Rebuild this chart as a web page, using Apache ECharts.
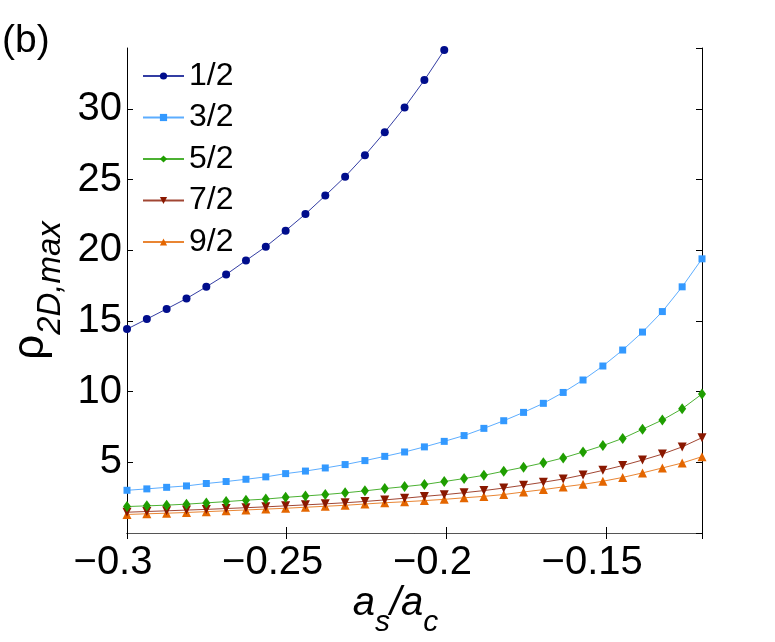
<!DOCTYPE html>
<html>
<head>
<meta charset="utf-8">
<script src="https://cdn.jsdelivr.net/npm/echarts@6/dist/echarts.min.js"></script>
<style>html,body{margin:0;padding:0;background:#fff;}#c{width:775px;height:642px;}</style>
</head>
<body>
<div id="c"></div>
<script>
// x values (a_s / a_c), 30 points from -0.3 to -0.12
var xVals = [-0.3, -0.29379, -0.28759, -0.28138, -0.27517, -0.26897, -0.26276, -0.25655, -0.25034, -0.24414,
  -0.23793, -0.23172, -0.22552, -0.21931, -0.2131, -0.2069, -0.20069, -0.19448, -0.18828, -0.18207,
  -0.17586, -0.16966, -0.16345, -0.15724, -0.15103, -0.14483, -0.13862, -0.13241, -0.12621, -0.12];
var seriesNames = ['1/2', '3/2', '5/2', '7/2', '9/2'];
var y12 = [14.42, 15.13, 15.85, 16.58, 17.41, 18.28, 19.27, 20.25, 21.38, 22.56, 23.86, 25.20, 26.71, 28.35, 30.10, 32.03, 34.15];
var y32 = [3.02, 3.12, 3.23, 3.33, 3.50, 3.64, 3.80, 3.97, 4.20, 4.38, 4.60, 4.84, 5.12, 5.42, 5.73, 6.09, 6.48, 6.89, 7.40, 7.94,
  8.53, 9.17, 9.94, 10.82, 11.81, 12.94, 14.21, 15.66, 17.41, 19.39];
var y52 = [1.87, 1.92, 1.97, 2.04, 2.13, 2.22, 2.32, 2.40, 2.52, 2.62, 2.72, 2.84, 2.98, 3.14, 3.28, 3.43, 3.64, 3.85, 4.08, 4.37,
  4.65, 4.96, 5.31, 5.73, 6.18, 6.69, 7.34, 7.99, 8.79, 9.83];
var y72 = [1.47, 1.52, 1.57, 1.62, 1.67, 1.73, 1.79, 1.85, 1.92, 1.99, 2.06, 2.14, 2.23, 2.34, 2.46, 2.59, 2.71, 2.85, 3.00, 3.18,
  3.38, 3.59, 3.82, 4.11, 4.43, 4.77, 5.16, 5.58, 6.09, 6.74];
var y92 = [1.31, 1.36, 1.40, 1.45, 1.51, 1.57, 1.63, 1.69, 1.75, 1.82, 1.89, 1.96, 2.05, 2.14, 2.21, 2.29, 2.38, 2.49, 2.59, 2.72,
  2.90, 3.07, 3.26, 3.44, 3.66, 3.93, 4.25, 4.60, 4.95, 5.40];
var xTicks = [-0.3, -0.25, -0.2, -0.15];
var yTicks = [5, 10, 15, 20, 25, 30];

var colors = ['#000d8c', '#3399ff', '#1f9e00', '#8a1800', '#e46600'];
var symbols = ['circle', 'rect', 'diamond', 'triangle', 'triangle'];
var symbolSizes = [8, 7, [8, 11], 9, 9];
var symbolRotates = [0, 0, 0, 180, 0];
var allY = [y12, y32, y52, y72, y92];

function pairs(ys) { return ys.map(function (v, i) { return [xVals[i], v]; }); }
var FONT = 'Liberation Sans, Arial, Helvetica, sans-serif';

var series = seriesNames.map(function (n, k) {
  return {
    name: n, type: 'line', data: pairs(allY[k]),
    xAxisIndex: 0, yAxisIndex: 0,
    symbol: symbols[k], symbolSize: symbolSizes[k], symbolRotate: symbolRotates[k],
    showAllSymbol: true,
    itemStyle: { color: colors[k] },
    lineStyle: { color: colors[k], width: 1, opacity: 0.8 },
    emphasis: { disabled: true },
    clip: true, animation: false, z: 10 - k
  };
});

var chart = echarts.init(document.getElementById('c'), null, { renderer: 'canvas' });
chart.setOption({
  animation: false,
  backgroundColor: '#fff',
  title: { text: '(b)', left: 2, top: 22, padding: 0,
    textStyle: { fontFamily: FONT, fontSize: 39, fontWeight: 'normal', color: '#000' } },
  grid: { left: 127, right: 73, top: 48, bottom: 109, containLabel: false, outerBoundsMode: 'none' },
  legend: {
    data: seriesNames, orient: 'vertical', left: 142, top: 60, padding: 0,
    itemWidth: 41, itemHeight: 9, itemGap: 9.5,
    textStyle: { fontFamily: FONT, fontSize: 32, color: '#000' },
    selectedMode: false
  },
  xAxis: [{
    type: 'value', min: -0.3, max: -0.12, interval: 0.05, position: 'bottom',
    axisLine: { lineStyle: { color: '#000', width: 1 } },
    axisTick: { inside: true, length: 6, lineStyle: { color: '#000' } },
    splitLine: { show: false },
    axisLabel: {
      showMaxLabel: false, margin: 10, color: '#000', fontFamily: FONT, fontSize: 40,
      padding: [0, 28, 0, 0],
      formatter: function (v) { var r = Math.round(v * 100) / 100; return String(r).replace('-', '\u2212'); }
    },
    name: '{a|a}{s|s}{a|/a}{t|c}', nameLocation: 'middle', nameGap: 51, nameMoveOverlap: false,
    nameTextStyle: {
      rich: {
        a: { fontFamily: FONT, fontSize: 40, fontStyle: 'italic', color: '#000', verticalAlign: 'top', padding: [0, 0, 14, 0] },
        s: { fontFamily: FONT, fontSize: 30, fontStyle: 'italic', color: '#000', verticalAlign: 'bottom' },
        t: { fontFamily: FONT, fontSize: 30, fontStyle: 'italic', color: '#000', verticalAlign: 'bottom', padding: [0, 38, 0, 0] }
      }
    }
  }, {
    type: 'value', min: -0.3, max: -0.12, interval: 0.05, position: 'top',
    axisLine: { lineStyle: { color: '#555', width: 1 } },
    axisTick: { inside: true, length: 6, lineStyle: { color: '#000' } },
    axisLabel: { show: false }, splitLine: { show: false }
  }],
  yAxis: [{
    type: 'value', min: 0, max: 34.3, interval: 5, position: 'left',
    axisLine: { show: true, lineStyle: { color: '#000', width: 1 } },
    axisTick: { show: true, inside: true, length: 6, lineStyle: { color: '#000' } },
    splitLine: { show: false },
    axisLabel: { showMinLabel: false, showMaxLabel: false, margin: 5, color: '#000', fontFamily: FONT, fontSize: 40 },
    name: '{r|\u03c1}{s|2D,max}', nameLocation: 'middle', nameGap: 60, nameRotate: 90, nameMoveOverlap: false,
    nameTextStyle: {
      rich: {
        r: { fontFamily: FONT, fontSize: 44, color: '#000', verticalAlign: 'top', padding: [0, 0, 14, 0] },
        s: { fontFamily: FONT, fontSize: 33, fontStyle: 'italic', color: '#000', verticalAlign: 'bottom' }
      }
    }
  }, {
    type: 'value', min: 0, max: 34.3, interval: 5, position: 'right',
    axisLine: { show: true, lineStyle: { color: '#000', width: 1 } },
    axisTick: { show: true, inside: true, length: 6, lineStyle: { color: '#000' } },
    axisLabel: { show: false }, splitLine: { show: false }
  }],
  series: series
});
</script>
</body>
</html>
